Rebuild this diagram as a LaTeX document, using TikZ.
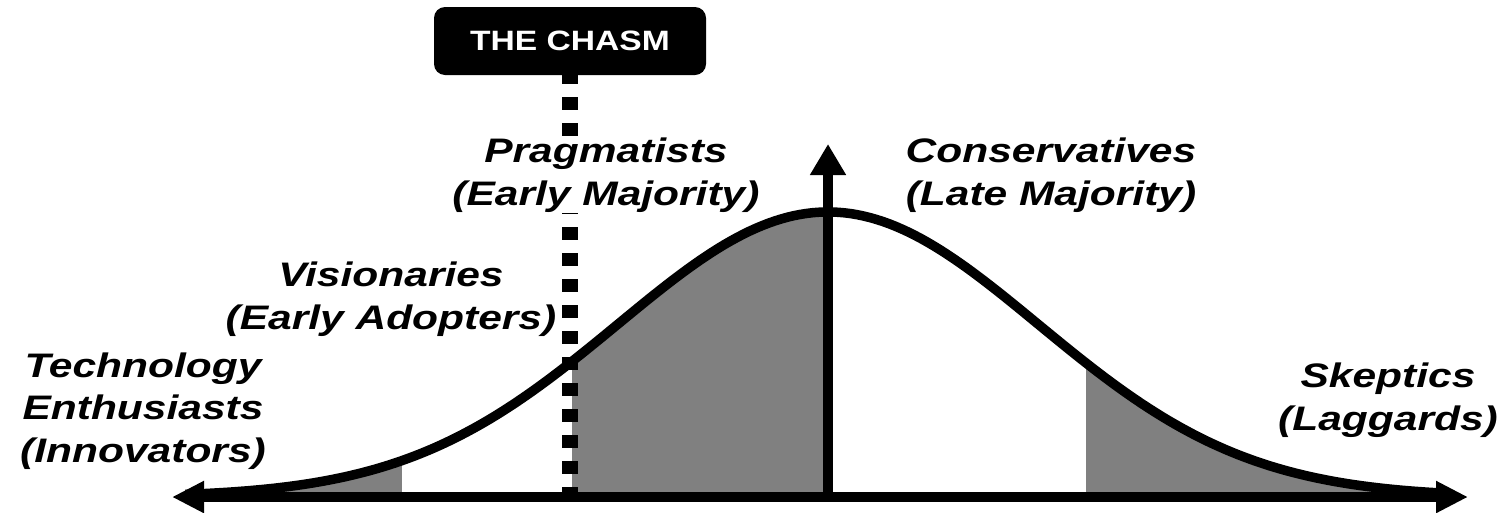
\documentclass[tikz,border=0pt]{standalone}
\usepackage{fontspec}
\usetikzlibrary{arrows.meta}
\newfontfamily\labfont[FakeStretch=1.25]{Liberation Sans}
\newfontfamily\chasmfont[FakeStretch=1.2]{Liberation Sans}
\definecolor{shade}{RGB}{128,128,128}
\tikzset{
  lab/.style={font={\labfont\bfseries\itshape\fontsize{34}{42.5}\selectfont}, align=center, anchor=base, inner sep=0pt},
  chasmbox/.style={fill=black, text=white, rounded corners=11pt, minimum width=272pt, minimum height=68pt, inner sep=0pt,
    font={\chasmfont\bfseries\fontsize{28}{30}\selectfont}},
  chasmline/.style={line width=16pt, dash pattern=on 13pt off 13pt, dash phase=4pt},
  bell/.style={line width=9.5pt, line join=round},
  axisline/.style={line width=10pt, {Triangle[width=30pt,length=32pt]}-{Triangle[width=30pt,length=32pt]}},
  uparrow/.style={line width=10pt, -{Triangle[width=34pt,length=31pt]}},
  area/.style={fill=shade}
}
\begin{document}
\begin{tikzpicture}[x=1pt,y=-1pt]
\useasboundingbox (0,0) rectangle (1509,512);
% shaded areas under the curve
\fill[area] plot[domain=-3.06:-2.029, samples=40] ({828+210*\x},{497-285*exp(-\x*\x/2)}) -- (402,497) -- (185,497) -- cycle;
\fill[area] plot[domain=-1.219:0, samples=60] ({828+210*\x},{497-285*exp(-\x*\x/2)}) -- (828,497) -- (572,497) -- cycle;
\fill[area] plot[domain=1.229:2.95, samples=60] ({828+210*\x},{497-285*exp(-\x*\x/2)}) -- (1447,497) -- (1086,497) -- cycle;
% bell curve
\draw[bell] plot[domain=-3.06:2.95, samples=200] ({828+210*\x},{497-285*exp(-\x*\x/2)});
% axes
\coordinate (axL) at (172,497);
\coordinate (axR) at (1468,497);
\coordinate (axC) at (828,497);
\coordinate (peak) at (828,144);
% chasm
\node[chasmbox] (chasm) at (570,41) {THE CHASM};
\draw[chasmline] (chasm.south) -- (chasm.south |- axC);
\draw[axisline] (axL) -- (axR);
\draw[uparrow] (axC) -- (peak);
% labels (anchor = baseline of the last line)
\node[lab] (inno) at (143,462) {Technology\\Enthusiasts\\(Innovators)};
\node[lab] (vis) at (391,329) {Visionaries\\(Early Adopters)};
\node[lab, fill=white, inner sep=1pt] (prag) at (606,205) {Pragmatists\\(Early Majority)};
\node[lab] (cons) at (1051,205) {Conservatives\\(Late Majority)};
\node[lab] (skep) at (1388,430) {Skeptics\\(Laggards)};
\end{tikzpicture}
\end{document}
